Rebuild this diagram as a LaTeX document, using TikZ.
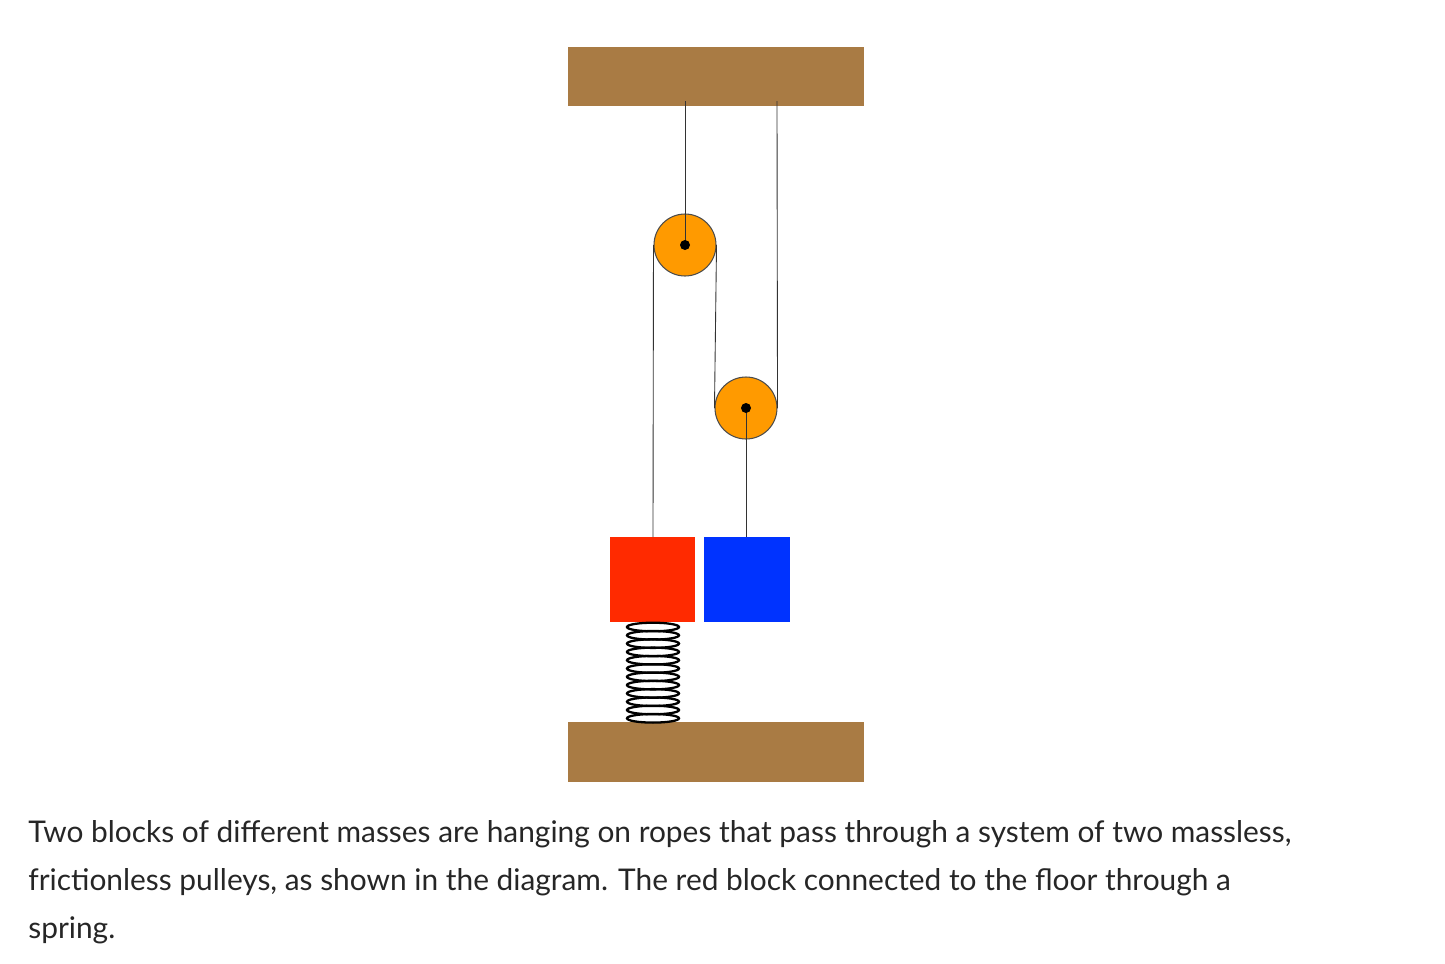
\documentclass[tikz,border=0pt]{standalone}
\usepackage{fontspec}
\setmainfont{Lato}
\definecolor{wood}{HTML}{A97B44}
\definecolor{pul}{HTML}{FF9A00}
\definecolor{redb}{HTML}{FF2A00}
\definecolor{blueb}{HTML}{0033FF}
\begin{document}
\begin{tikzpicture}[x=0.02cm,y=-0.02cm,
  rope/.style={draw=black!80,line width=0.5pt},
  pulley/.style={circle,draw=black!70,fill=pul,minimum size=1.24cm,inner sep=0pt,line width=0.6pt},
  axle/.style={circle,fill=black,minimum size=0.2cm,inner sep=0pt},
  txt/.style={anchor=base west,inner sep=0pt,font=\fontsize{17}{20}\selectfont,text=black!85}]
\useasboundingbox (0,0) rectangle (1445,964);
\fill[wood] (568,47) rectangle (864,106);
\fill[wood] (568,722) rectangle (864,782);
\coordinate (c1) at (685,101);
\coordinate (c2) at (777,101);
\node[pulley] (p1) at (685,245) {};
\node[pulley] (p2) at (746,408) {};
\fill[redb] (610,537) rectangle (695,622);
\fill[blueb] (704,537) rectangle (790,622);
\coordinate (rt) at (653,537);
\coordinate (bt) at (746,537);
\draw[rope] (c1) -- (p1.center);
\draw[rope] (p1.west) -- (rt);
\draw[rope] (p1.east) -- (p2.west);
\draw[rope] (p2.east) -- (c2);
\draw[rope] (p2.center) -- (bt);
\node[axle] at (p1.center) {};
\node[axle] at (p2.center) {};
\foreach \i in {0,...,11}
  \draw[line width=1.3pt] (653,{627+\i*8.3}) ellipse [x radius=26, y radius=4.3];
\node[txt] at (28,842) {Two blocks of different masses are hanging on ropes that pass through a system of two massless,};
\node[txt] at (28,890) {frictionless pulleys, as shown in the diagram. The red block connected to the floor through a};
\node[txt] at (28,938) {spring.};
\end{tikzpicture}
\end{document}
